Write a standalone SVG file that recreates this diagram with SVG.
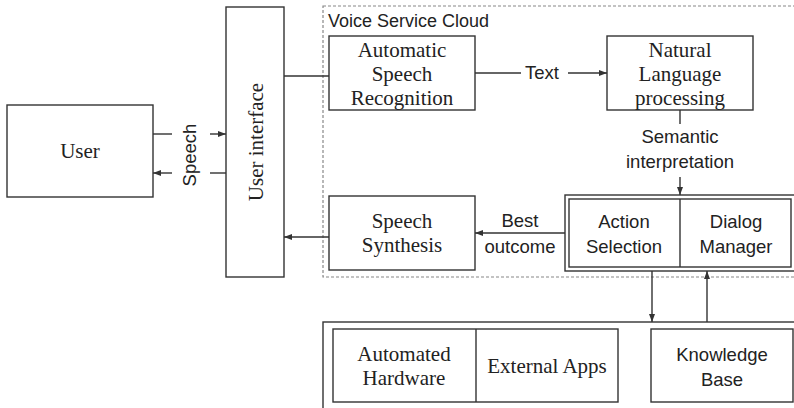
<svg xmlns="http://www.w3.org/2000/svg" width="794" height="408" viewBox="0 0 794 408">
<style>
.box{fill:#fff;stroke:#333;stroke-width:1.4}
.ln{fill:none;stroke:#333;stroke-width:1.4}
.serif{font-family:"Liberation Serif","Times New Roman",serif;font-size:21px;fill:#222;text-anchor:middle}
.sans{font-family:"Liberation Sans",Arial,sans-serif;font-size:18.5px;fill:#222;text-anchor:middle}
.cloud{fill:none;stroke:#888;stroke-width:1.2;stroke-dasharray:3 2}
</style>
<defs>
<marker id="ah" viewBox="0 0 8 8" refX="8" refY="4" markerWidth="8" markerHeight="8" markerUnits="userSpaceOnUse" orient="auto">
<path d="M0,1 L8,4 L0,7 Z" fill="#333"/>
</marker>
</defs>
<rect width="794" height="408" fill="#fff"/>

<g id="cloud">
<rect class="cloud" x="323" y="6" width="480" height="271"/>
<text x="328" y="27" class="sans" style="text-anchor:start;font-size:18px">Voice Service Cloud</text>
</g>

<g id="user">
<rect class="box" x="7" y="105" width="146" height="92"/>
<text x="80" y="158" class="serif">User</text>
</g>

<g id="ui">
<rect class="box" x="226" y="7" width="58" height="270"/>
<text class="serif" transform="translate(263,142) rotate(-90)">User interface</text>
</g>

<g id="asr">
<rect class="box" x="329" y="36" width="146" height="74"/>
<text x="402" y="57" class="serif">Automatic</text>
<text x="402" y="81" class="serif">Speech</text>
<text x="402" y="105" class="serif">Recognition</text>
</g>

<g id="nlp">
<rect class="box" x="607" y="36" width="146" height="74"/>
<text x="680" y="57" class="serif">Natural</text>
<text x="680" y="81" class="serif">Language</text>
<text x="680" y="105" class="serif">processing</text>
</g>

<g id="synth">
<rect class="box" x="329" y="196" width="146" height="74"/>
<text x="402" y="228" class="serif">Speech</text>
<text x="402" y="252" class="serif">Synthesis</text>
</g>

<g id="dialog">
<rect class="box" x="565" y="195" width="230" height="76"/>
<rect class="box" x="569" y="199" width="222" height="68"/>
<line class="ln" x1="680" y1="199" x2="680" y2="267"/>
<text x="624" y="228" class="sans">Action</text>
<text x="624" y="253" class="sans">Selection</text>
<text x="736" y="228" class="sans">Dialog</text>
<text x="736" y="253" class="sans">Manager</text>
</g>

<g id="services">
<rect class="box" x="323" y="322" width="480" height="100"/>
<rect class="box" x="333" y="329" width="285" height="73"/>
<line class="ln" x1="476" y1="329" x2="476" y2="402"/>
<text x="404" y="361" class="serif">Automated</text>
<text x="404" y="385" class="serif">Hardware</text>
<text x="547" y="373" class="serif">External Apps</text>
</g>

<g id="kb">
<rect class="box" x="651" y="329" width="142" height="73"/>
<text x="722" y="361" class="sans">Knowledge</text>
<text x="722" y="386" class="sans">Base</text>
</g>

<g id="connectors">
<line class="ln" x1="153" y1="134" x2="172" y2="134"/>
<line class="ln" x1="210" y1="134" x2="226" y2="134" marker-end="url(#ah)"/>
<line class="ln" x1="226" y1="173" x2="210" y2="173"/>
<line class="ln" x1="172" y1="173" x2="153" y2="173" marker-end="url(#ah)"/>
<text class="sans" transform="translate(196,155) rotate(-90)">Speech</text>
<line class="ln" x1="284" y1="76" x2="329" y2="76"/>
<line class="ln" x1="475" y1="73" x2="521" y2="73"/>
<text x="542" y="79" class="sans">Text</text>
<line class="ln" x1="568" y1="73" x2="607" y2="73" marker-end="url(#ah)"/>
<line class="ln" x1="680" y1="110" x2="680" y2="124"/>
<text x="680" y="143" class="sans">Semantic</text>
<text x="680" y="168" class="sans">interpretation</text>
<line class="ln" x1="680" y1="177" x2="680" y2="195" marker-end="url(#ah)"/>
<line class="ln" x1="565" y1="233" x2="475" y2="233" marker-end="url(#ah)"/>
<text x="520" y="227" class="sans">Best</text>
<text x="520" y="253" class="sans">outcome</text>
<line class="ln" x1="329" y1="237" x2="284" y2="237" marker-end="url(#ah)"/>
<line class="ln" x1="652" y1="271" x2="652" y2="322" marker-end="url(#ah)"/>
<line class="ln" x1="707" y1="322" x2="707" y2="271" marker-end="url(#ah)"/>
</g>
</svg>
